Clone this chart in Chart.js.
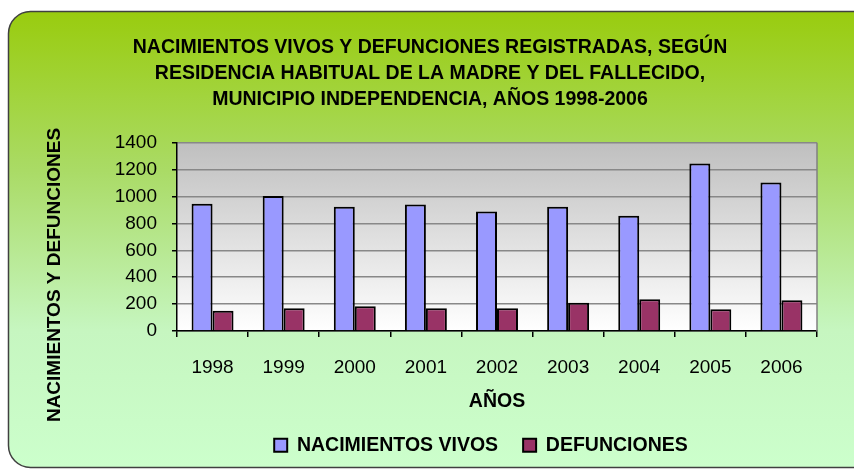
<!DOCTYPE html>
<html>
<head>
<meta charset="utf-8">
<script src="https://cdn.jsdelivr.net/npm/chart.js@4/dist/chart.umd.min.js"></script>
<style>
  html, body { margin: 0; padding: 0; background: #fff; }
  #wrap { width: 854px; height: 470px; }
</style>
</head>
<body>
<div id="wrap"><canvas id="chart" width="854" height="470"></canvas></div>
<script>
const years = ['1998', '1999', '2000', '2001', '2002', '2003', '2004', '2005', '2006'];
const nacimientos = [947, 1005, 924, 941, 889, 924, 857, 1246, 1105];
const defunciones = [151, 169, 184, 169, 169, 211, 236, 162, 229];
const yMax = 1400;
const yStep = 200;

const titulo = [
  'NACIMIENTOS VIVOS Y DEFUNCIONES REGISTRADAS, SEGÚN',
  'RESIDENCIA HABITUAL DE LA MADRE Y DEL FALLECIDO,',
  'MUNICIPIO INDEPENDENCIA, AÑOS 1998-2006'
];
const tituloY = 'NACIMIENTOS Y DEFUNCIONES';

const fam = "'Liberation Sans', Arial, sans-serif";

// fondo verde redondeado + area gris, borde derecho, titulo del eje Y
const fondo = {
  id: 'fondo',
  afterLayout(chart) {
    // la leyenda del original esta un poco corrida a la izquierda
    chart.legend.left -= 16;
    chart.legend.right -= 16;
  },
  beforeDraw(chart) {
    const ctx = chart.ctx;
    const a = chart.chartArea;
    ctx.save();
    const g = ctx.createLinearGradient(0, 11, 0, 468);
    g.addColorStop(0, '#99cc0e');
    g.addColorStop(0.35, '#aadb66');
    g.addColorStop(0.7, '#c6f6c0');
    g.addColorStop(1, '#ccffcc');
    ctx.beginPath();
    ctx.roundRect(8.5, 11.5, 880, 456, 22);
    ctx.fillStyle = g;
    ctx.fill();
    ctx.strokeStyle = '#404040';
    ctx.lineWidth = 1.5;
    ctx.stroke();

    const g2 = ctx.createLinearGradient(0, a.top, 0, a.bottom);
    g2.addColorStop(0, '#bfbfbf');
    g2.addColorStop(1, '#ffffff');
    ctx.fillStyle = g2;
    ctx.fillRect(a.left, a.top, a.right - a.left, a.bottom - a.top);
    ctx.restore();
  },
  afterDatasetsDraw(chart) {
    const ctx = chart.ctx;
    const a = chart.chartArea;
    ctx.save();
    ctx.strokeStyle = '#808080';
    ctx.lineWidth = 1.5;
    ctx.beginPath();
    ctx.moveTo(a.right, a.top);
    ctx.lineTo(a.right, a.bottom);
    ctx.stroke();
    ctx.restore();
  },
  afterDraw(chart) {
    const ctx = chart.ctx;
    ctx.save();
    ctx.translate(55, 275);
    ctx.rotate(-Math.PI / 2);
    ctx.font = 'bold 19px ' + fam;
    ctx.fillStyle = '#000';
    ctx.textAlign = 'center';
    ctx.textBaseline = 'middle';
    ctx.fillText(tituloY, 0, 0);
    ctx.restore();
  }
};

new Chart(document.getElementById('chart').getContext('2d'), {
  type: 'bar',
  data: {
    labels: years,
    datasets: [{
      label: 'NACIMIENTOS VIVOS',
      data: nacimientos,
      backgroundColor: '#9999ff',
      borderColor: '#000',
      borderWidth: 2
    }, {
      label: 'DEFUNCIONES',
      data: defunciones,
      backgroundColor: '#993366',
      borderColor: '#000',
      borderWidth: 2
    }]
  },
  options: {
    responsive: false,
    animation: false,
    devicePixelRatio: 1,
    layout: {
      padding: { left: 43, right: 37, top: 0, bottom: 5 }
    },
    datasets: {
      bar: {
        categoryPercentage: 0.59,
        barPercentage: 1
      }
    },
    scales: {
      x: {
        afterFit: (s) => { s.height = 79.5; },
        grid: {
          drawOnChartArea: false,
          offset: true,
          tickLength: 6,
          tickColor: '#000',
          lineWidth: 1.5
        },
        border: { color: '#000', width: 1.5 },
        ticks: {
          color: '#000',
          padding: 19,
          font: { family: fam, size: 19 }
        },
        title: {
          display: true,
          text: 'AÑOS',
          color: '#000',
          font: { family: fam, size: 19.5, weight: 'bold' },
          padding: { top: 0, bottom: -3 }
        }
      },
      y: {
        min: 0,
        max: yMax,
        afterFit: (s) => { s.width = 134; },
        grid: {
          color: '#888',
          lineWidth: 1.5,
          tickLength: 5,
          tickColor: '#000'
        },
        border: { color: '#000', width: 1.5 },
        ticks: {
          stepSize: yStep,
          color: '#000',
          padding: 15,
          format: { useGrouping: false },
          font: { family: fam, size: 19 }
        }
      }
    },
    plugins: {
      title: {
        display: true,
        text: titulo,
        color: '#000',
        font: { family: fam, size: 19.5, weight: 'bold', lineHeight: 1.33 },
        padding: { top: 35, bottom: 30 }
      },
      legend: {
        position: 'bottom',
        fullSize: false,
        labels: {
          boxWidth: 13,
          boxHeight: 13,
          padding: 25,
          color: '#000',
          font: { family: fam, size: 19.5, weight: 'bold' }
        }
      },
      tooltip: { enabled: false }
    }
  },
  plugins: [fondo]
});
</script>
</body>
</html>
